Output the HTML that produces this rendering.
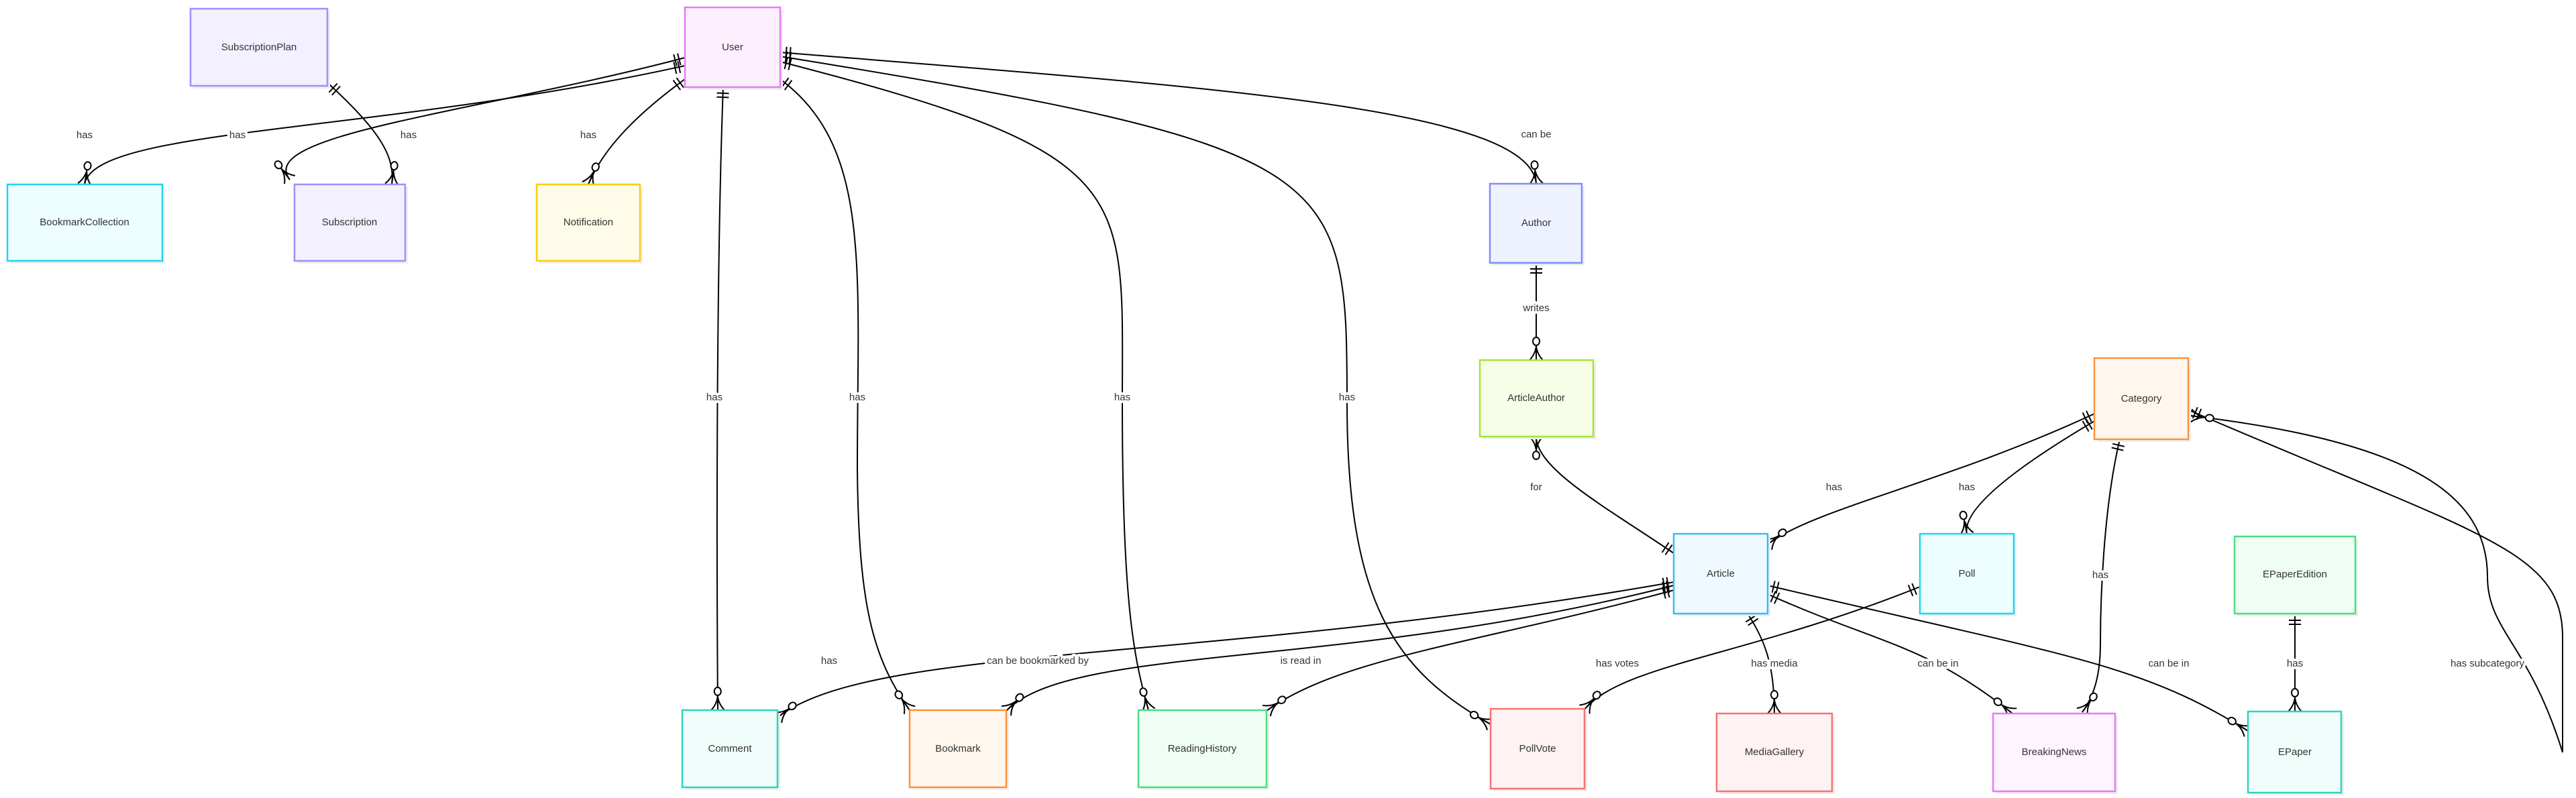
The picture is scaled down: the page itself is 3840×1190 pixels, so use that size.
<!DOCTYPE html>
<html><head><meta charset="utf-8"><style>
html,body{margin:0;padding:0;background:#fff;}
svg{display:block;}
text{font-family:"Liberation Sans",sans-serif;font-size:15px;fill:#333;}
.lbl{paint-order:stroke;stroke:#fff;stroke-width:8px;stroke-linejoin:round;text-anchor:middle;dominant-baseline:middle;}
.e{text-anchor:middle;dominant-baseline:middle;}
.ln{fill:none;stroke:#000;stroke-width:2;marker-start:url(#one);marker-end:url(#many);}
</style></head><body>
<svg width="3840" height="1190" viewBox="0 0 3840 1190" xmlns="http://www.w3.org/2000/svg">
<defs>
<marker id="many" viewBox="-40 -13 44 26" refX="0" refY="0" markerWidth="44" markerHeight="26" orient="auto" markerUnits="userSpaceOnUse">
<path d="M-22,0 L0,0 M-20,0 Q-8,-2 0,-10 M-20,0 Q-8,2 0,10" fill="none" stroke="#000" stroke-width="2"/>
<ellipse cx="-28" cy="0" rx="6" ry="5" fill="#fff" stroke="#000" stroke-width="2"/>
</marker>
<marker id="one" viewBox="-24 -13 28 26" refX="0" refY="0" markerWidth="28" markerHeight="26" orient="auto-start-reverse" markerUnits="userSpaceOnUse">
<path d="M-9,-9 L-9,9 M-15,-9 L-15,9" fill="none" stroke="#000" stroke-width="2"/>
</marker>
</defs>

<g>
<path class="ln" d="M1021,98 C560,200 140,190 126,275"/>
<path class="ln" d="M1021,86 C700,170 380,200 432,268"/>
<path class="ln" d="M490,125 C560,190 590,230 584,275"/>
<path class="ln" d="M1021,118 C950,170 900,220 877,275"/>
<path class="ln" d="M1078,130 C1068,400 1068,800 1070,1059"/>
<path class="ln" d="M1163,118 C1300,220 1278,400 1278,700 C1280,900 1300,980 1356,1059"/>
<path class="ln" d="M1163,92 C1700,230 1673,280 1673,600 C1673,900 1690,980 1712,1059"/>
<path class="ln" d="M1163,84 C2000,220 2008,250 2008,600 C2008,900 2080,1000 2222,1080"/>
<path class="ln" d="M1163,78 C1800,130 2280,160 2290,274"/>
<path class="ln" d="M2290,392 L2290,537"/>
<path class="ln" d="M2495,825 C2400,760 2290,700 2290,651"/>
<path class="ln" d="M3122,617 C2900,720 2700,760 2635,812"/>
<path class="ln" d="M3122,628 C3000,700 2925,760 2932,796"/>
<path class="ln" d="M3160,655 C3135,760 3131,900 3131,960 C3131,1010 3120,1040 3104,1062"/>
<path class="ln" d="M3264,612 C3700,800 3820,820 3820,950 L3820,1122" style="marker-end:none"/>
<path class="ln" d="M3820,1122 C3770,960 3708,940 3708,860 C3708,740 3600,660 3266,620" style="marker-start:none"/>
<path class="ln" d="M2495,868 C1800,990 1300,960 1159,1070"/>
<path class="ln" d="M2495,873 C2000,1000 1600,960 1500,1060"/>
<path class="ln" d="M2495,880 C2200,960 2000,980 1888,1060"/>
<path class="ln" d="M2862,875 C2600,980 2420,990 2362,1058"/>
<path class="ln" d="M2605,915 C2635,960 2645,1000 2645,1064"/>
<path class="ln" d="M2635,886 C2800,960 2870,960 3000,1064"/>
<path class="ln" d="M2635,873 C3090,980 3190,990 3351,1090"/>
<path class="ln" d="M3421,916 L3421,1061"/>
</g>

<g>
<text class="lbl" x="126" y="202">has</text>
<text class="lbl" x="354" y="202">has</text>
<text class="lbl" x="609" y="202">has</text>
<text class="lbl" x="877" y="202">has</text>
<text class="lbl" x="2290" y="201">can be</text>
<text class="lbl" x="1065" y="593">has</text>
<text class="lbl" x="1278" y="593">has</text>
<text class="lbl" x="1673" y="593">has</text>
<text class="lbl" x="2008" y="593">has</text>
<text class="lbl" x="2290" y="460">writes</text>
<text class="lbl" x="2290" y="727">for</text>
<text class="lbl" x="2734" y="727">has</text>
<text class="lbl" x="2932" y="727">has</text>
<text class="lbl" x="3131" y="858">has</text>
<text class="lbl" x="1236" y="986">has</text>
<text class="lbl" x="1547" y="986">can be bookmarked by</text>
<text class="lbl" x="1939" y="986">is read in</text>
<text class="lbl" x="2411" y="990">has votes</text>
<text class="lbl" x="2645" y="990">has media</text>
<text class="lbl" x="2889" y="990">can be in</text>
<text class="lbl" x="3233" y="990">can be in</text>
<text class="lbl" x="3421" y="990">has</text>
<text class="lbl" x="3708" y="990">has subcategory</text>
</g>

<g stroke-width="2.5">
<g><rect x="288" y="17" width="204" height="115" fill="#eee"/><rect x="284" y="13" width="204" height="115" fill="#f3f0ff" stroke="#a78bfa"/><text class="e" x="386" y="71">SubscriptionPlan</text></g>
<g><rect x="1025" y="15" width="142" height="119" fill="#eee"/><rect x="1021" y="11" width="142" height="119" fill="#fdf0fe" stroke="#e879f9"/><text class="e" x="1092" y="71">User</text></g>
<g><rect x="15" y="279" width="231" height="114" fill="#eee"/><rect x="11" y="275" width="231" height="114" fill="#ecfeff" stroke="#22d3ee"/><text class="e" x="126" y="332">BookmarkCollection</text></g>
<g><rect x="443" y="279" width="165" height="114" fill="#eee"/><rect x="439" y="275" width="165" height="114" fill="#f3f0ff" stroke="#a78bfa"/><text class="e" x="521" y="332">Subscription</text></g>
<g><rect x="804" y="279" width="154" height="114" fill="#eee"/><rect x="800" y="275" width="154" height="114" fill="#fefce8" stroke="#facc15"/><text class="e" x="877" y="332">Notification</text></g>
<g><rect x="2225" y="278" width="137" height="118" fill="#eee"/><rect x="2221" y="274" width="137" height="118" fill="#eef2ff" stroke="#818cf8"/><text class="e" x="2290" y="333">Author</text></g>
<g><rect x="2210" y="541" width="169" height="114" fill="#eee"/><rect x="2206" y="537" width="169" height="114" fill="#f7fee7" stroke="#a3e635"/><text class="e" x="2290" y="594">ArticleAuthor</text></g>
<g><rect x="3126" y="538" width="140" height="121" fill="#eee"/><rect x="3122" y="534" width="140" height="121" fill="#fff7ed" stroke="#fb923c"/><text class="e" x="3192" y="595">Category</text></g>
<g><rect x="2499" y="800" width="140" height="119" fill="#eee"/><rect x="2495" y="796" width="140" height="119" fill="#f0f9ff" stroke="#38bdf8"/><text class="e" x="2565" y="856">Article</text></g>
<g><rect x="2866" y="800" width="140" height="119" fill="#eee"/><rect x="2862" y="796" width="140" height="119" fill="#ecfeff" stroke="#22d3ee"/><text class="e" x="2932" y="856">Poll</text></g>
<g><rect x="3335" y="804" width="180" height="115" fill="#eee"/><rect x="3331" y="800" width="180" height="115" fill="#f0fdf4" stroke="#4ade80"/><text class="e" x="3421" y="857">EPaperEdition</text></g>
<g><rect x="1021" y="1063" width="142" height="115" fill="#eee"/><rect x="1017" y="1059" width="142" height="115" fill="#f0fdfa" stroke="#2dd4bf"/><text class="e" x="1088" y="1117">Comment</text></g>
<g><rect x="1360" y="1063" width="144" height="115" fill="#eee"/><rect x="1356" y="1059" width="144" height="115" fill="#fff7ed" stroke="#fb923c"/><text class="e" x="1428" y="1117">Bookmark</text></g>
<g><rect x="1701" y="1063" width="191" height="115" fill="#eee"/><rect x="1697" y="1059" width="191" height="115" fill="#f0fdf4" stroke="#4ade80"/><text class="e" x="1792" y="1117">ReadingHistory</text></g>
<g><rect x="2226" y="1061" width="140" height="119" fill="#eee"/><rect x="2222" y="1057" width="140" height="119" fill="#fef2f2" stroke="#f87171"/><text class="e" x="2292" y="1117">PollVote</text></g>
<g><rect x="2563" y="1068" width="172" height="116" fill="#eee"/><rect x="2559" y="1064" width="172" height="116" fill="#fef2f2" stroke="#f87171"/><text class="e" x="2645" y="1122">MediaGallery</text></g>
<g><rect x="2975" y="1068" width="182" height="116" fill="#eee"/><rect x="2971" y="1064" width="182" height="116" fill="#fdf4ff" stroke="#e879f9"/><text class="e" x="3062" y="1122">BreakingNews</text></g>
<g><rect x="3355" y="1065" width="139" height="121" fill="#eee"/><rect x="3351" y="1061" width="139" height="121" fill="#f0fdfa" stroke="#2dd4bf"/><text class="e" x="3421" y="1122">EPaper</text></g>
</g>
</svg>
</body></html>
